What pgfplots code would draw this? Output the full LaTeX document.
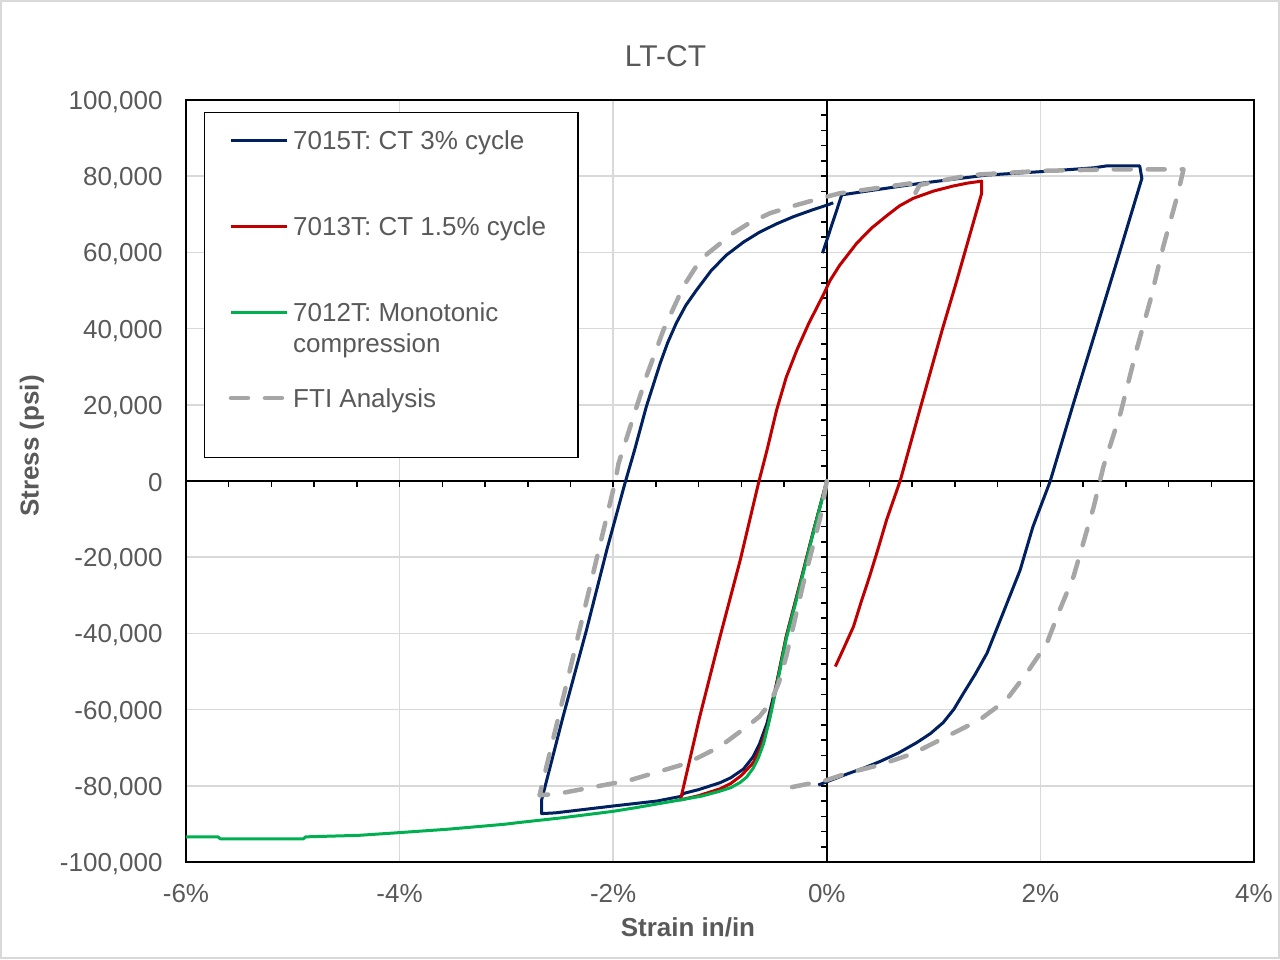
\documentclass[border=0pt]{standalone}
\usepackage{fontspec}
\setmainfont{Liberation Sans}
\usepackage{pgfplots}
\pgfplotsset{compat=1.18}
\definecolor{navy}{HTML}{002060}
\definecolor{dred}{HTML}{C00000}
\definecolor{xgreen}{HTML}{00B050}
\definecolor{fti}{HTML}{A6A6A6}
\definecolor{txt}{HTML}{595959}
\definecolor{grd}{HTML}{D9D9D9}
\newcommand\ls{\rule[-3pt]{0pt}{15.3pt}}
\pgfplotsset{ftilegend/.style={legend image code/.code={\path (-12pt,-18pt) (0pt,0pt); \draw[##1] (0pt,4.65pt) -- (28pt,4.65pt);}}}
\begin{document}
\begin{tikzpicture}
\useasboundingbox (-93pt,-48.5pt) rectangle (547pt,431pt);
\draw[grd, line width=0.75pt] (-92.5pt,-48pt) rectangle (546.5pt,430.5pt);
% frame, grid, labels
\begin{axis}[
  scale only axis, width=534pt, height=381pt,
  xmin=-6, xmax=4, ymin=-100000, ymax=100000,
  scaled ticks=false,
  axis line style={black, line width=0.75pt},
  xtick={-6,-4,-2,0,2,4},
  xticklabels={-6\%,-4\%,-2\%,0\%,2\%,4\%},
  ytick={-100000,-80000,-60000,-40000,-20000,0,20000,40000,60000,80000,100000},
  yticklabels={{-100,000},{-80,000},{-60,000},{-40,000},{-20,000},{0},{20,000},{40,000},{60,000},{80,000},{100,000}},
  major tick length=0pt, tick style={draw=none},
  grid=major, major grid style={grd, line width=0.75pt},
  ticklabel style={font=\fontsize{13}{15.6}\selectfont, text=txt},
  xticklabel style={inner sep=0pt, anchor=north, yshift=-11pt},
  yticklabel style={inner sep=0pt, anchor=east, xshift=-11.5pt, yshift=-1pt},
  title={LT-CT},
  title style={font=\fontsize{15}{18}\selectfont, text=txt, at={(axis description cs:0.449,1.059)}, anchor=center, yshift=-6.5pt},
  xlabel={Strain in/in},
  xlabel style={font=\fontsize{13}{15.6}\selectfont\bfseries, text=txt, at={(axis description cs:0.470,-0.0853)}, anchor=center},
  ylabel={Stress (psi)},
  ylabel style={font=\fontsize{13}{15.6}\selectfont\bfseries, text=txt, at={(axis description cs:-0.1442,0.546)}, anchor=center},
]
\end{axis}
% central axes and data
\begin{axis}[
  scale only axis, width=534pt, height=381pt,
  xmin=-6, xmax=4, ymin=-100000, ymax=100000,
  scaled ticks=false,
  axis lines=middle,
  axis line style={black, line width=0.75pt, -},
  xtick={-6,-4,-2,0,2,4},
  ytick={-100000,-80000,-60000,-40000,-20000,0,20000,40000,60000,80000,100000},
  minor x tick num=4, minor y tick num=4,
  xticklabels=\empty, yticklabels=\empty,
  xticklabel=\empty, yticklabel=\empty,
  major tick length=3pt, minor tick length=3pt,
  tick align=outside,
  tick style={black, line width=0.75pt},
  legend image code/.code={\path (-12pt,0pt); \draw[#1] (0pt,4.65pt) -- (28pt,4.65pt);},
  legend style={at={(axis description cs:0.01685,0.9843)}, anchor=north west,
    draw=black, line width=0.75pt, fill=white,
    inner xsep=0pt, inner ysep=6pt, row sep=29.2pt, column sep=2pt,
    font=\fontsize{13}{15.6}\selectfont,
    nodes={inner sep=0pt, text=txt},
    cells={anchor=base west}},
]
\addplot[navy, line width=1.5pt, line join=round] coordinates {
(0,0) (-0.13,-13700) (-0.25,-26900) (-0.38,-40900) (-0.47,-53100) (-0.56,-63600) (-0.63,-69000) (-0.69,-72400) (-0.78,-75600) (-0.9,-77900) (-1.0,-79200) (-1.2,-81000) (-1.34,-82000) (-1.37,-82800) (-1.59,-84000) (-2.0,-85300) (-2.54,-87100) (-2.67,-87300) (-2.67,-83700) (-2.47,-61900) (-2.25,-39100) (-2.06,-18100) (-1.89,-600) (-1.80,8100) (-1.69,19500) (-1.56,30900) (-1.49,36300) (-1.41,41400) (-1.32,46100) (-1.22,50100) (-1.08,55300) (-0.94,59300) (-0.78,62700) (-0.63,65300) (-0.47,67500) (-0.31,69400) (-0.15,71000) (0,72400) (0.06,73000)
};
\addlegendentry{\ls\makebox[142.5pt][l]{7015T: CT 3\% cycle}}
\addplot[navy, line width=1.5pt, line join=round, forget plot] coordinates {
(-0.04,59800) (0.14,75100) (0.5,76600) (0.87,78100) (1.5,80300) (2.01,81200) (2.5,82200) (2.62,82700) (2.93,82700) (2.95,79400) (2.72,58000) (2.52,39600) (2.31,20400) (2.09,-200) (1.93,-12000) (1.81,-23400) (1.65,-34700) (1.50,-45200) (1.39,-50700) (1.28,-55700) (1.19,-59900) (1.09,-63400) (0.97,-66300) (0.84,-68700) (0.67,-71400) (0.50,-73600) (0.35,-75300) (0.19,-76900) (-0.08,-79800)
};
\addplot[dred, line width=1.5pt, line join=round] coordinates {
(0,0) (-0.13,-13700) (-0.25,-26900) (-0.38,-40900) (-0.47,-53500) (-0.55,-64000) (-0.62,-70000) (-0.69,-74000) (-0.8,-77300) (-0.9,-79400) (-1.0,-80800) (-1.2,-82600) (-1.37,-83700) (-1.19,-61900) (-1.0,-40900) (-0.81,-20700) (-0.64,-600) (-0.56,8100) (-0.47,18600) (-0.38,27200) (-0.28,34400) (-0.17,41300) (-0.03,49000) (0.03,52600) (0.12,56600) (0.28,62400) (0.42,66400) (0.56,69600) (0.68,72200) (0.81,74200) (1.0,76100) (1.18,77400) (1.32,78200) (1.45,78700) (1.45,75500) (1.21,51900) (1.08,39600) (0.87,18600) (0.69,300) (0.56,-10200) (0.48,-17800) (0.40,-25100) (0.32,-31900) (0.25,-38200) (0.16,-43800) (0.08,-48700)
};
\addlegendentry{\ls 7013T: CT 1.5\% cycle}
\addplot[xgreen, line width=1.5pt, line join=round] coordinates {
(0,0) (-0.13,-14000) (-0.25,-27500) (-0.38,-41500) (-0.47,-54000) (-0.53,-61900) (-0.59,-68800) (-0.64,-72600) (-0.69,-75400) (-0.75,-77700) (-0.81,-79100) (-0.9,-80500) (-1.0,-81400) (-1.17,-82700) (-1.37,-83700) (-1.78,-85700) (-2.0,-86700) (-2.48,-88400) (-2.87,-89600) (-3.02,-90100) (-3.55,-91400) (-4.06,-92400) (-4.38,-93000) (-4.88,-93400) (-4.9,-93900) (-5.68,-93900) (-5.7,-93400) (-6.0,-93400)
};
\addlegendentry{\raisebox{0pt}[12.3pt][3pt]{\begin{tabular}[t]{@{}l@{}}7012T: Monotonic\\compression\end{tabular}}}
\addplot[fti, line width=2.25pt, line cap=round, line join=round, dash pattern=on 8.5pt off 8.5pt, ftilegend] coordinates {
(0,0) (-0.06,-9400) (-0.22,-26900) (-0.38,-46100) (-0.45,-53000) (-0.53,-58300) (-0.63,-61800) (-0.75,-64500) (-1.0,-69700) (-1.31,-74100) (-1.84,-78500) (-2.50,-82000) (-2.69,-82500) (-2.37,-45500) (-1.98,0) (-1.95,4600) (-1.81,16900) (-1.69,27400) (-1.53,39600) (-1.34,51200) (-1.23,56000) (-1.12,59600) (-0.88,65000) (-0.72,67800) (-0.53,70300) (-0.30,72300) (-0.06,74200) (0.12,75500) (0.78,78100) (0.81,74600) (0.87,77700) (1.34,80300) (2.01,81400) (2.68,81800) (3.34,81800) (3.28,74600) (3.15,61500) (3.03,47500) (2.90,34400) (2.75,17800) (2.59,3750) (2.50,-6700) (2.40,-16400) (2.31,-25100) (2.18,-33900) (2.06,-42600) (1.87,-50500) (1.68,-57500) (1.43,-62700) (1.12,-67100) (0.81,-71500) (0.50,-74500) (0.19,-76700) (0,-78500) (-0.39,-80700)
};
\addlegendentry{\ls FTI Analysis}
\end{axis}
\end{tikzpicture}
\end{document}
